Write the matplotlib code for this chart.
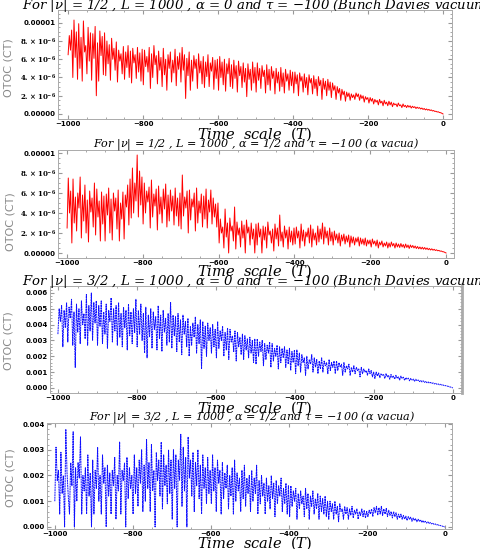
import numpy as np
import matplotlib
matplotlib.use("Agg")
import matplotlib.pyplot as plt

# OTOC values, 32 per 100 time units
# (units: 1e-6 for the nu=1/2 panels, 1e-3 for the nu=3/2 panels)
otoc_half_bd = [
    6.5, 8.6, 7.0, 9.2, 4.0, 10.3, 6.2, 9.0, 3.8, 9.9, 5.0, 8.4, 3.6, 10.2, 6.8, 7.5,
    4.4, 9.5, 5.8, 8.9, 3.7, 8.8, 6.1, 9.6, 2.0, 7.8, 3.6, 9.1, 6.4, 8.5, 4.3, 8.9,
    4.2, 8.0, 5.5, 7.6, 3.7, 8.3, 6.0, 7.2, 4.8, 7.9, 3.5, 7.0, 5.8, 6.6, 4.4, 7.4,
    3.8, 6.8, 5.1, 7.5, 4.0, 6.9, 3.4, 7.2, 5.6, 6.5, 3.9, 7.3, 4.6, 6.7, 3.6, 7.1,
    3.2, 7.0, 5.2, 6.3, 4.6, 7.3, 2.8, 6.6, 4.0, 7.5, 5.4, 6.4, 3.3, 6.9, 4.8, 6.2,
    3.0, 7.2, 4.3, 6.0, 2.6, 6.5, 5.0, 6.8, 3.5, 5.9, 4.5, 7.1, 3.1, 6.3, 4.9, 6.7,
    3.5, 7.3, 4.8, 6.5, 1.7, 6.1, 4.2, 6.8, 2.6, 5.9, 3.6, 6.4, 5.0, 6.0, 2.8, 6.6,
    4.5, 5.8, 3.3, 6.3, 2.9, 5.7, 4.1, 6.5, 3.0, 5.6, 4.7, 6.2, 2.7, 5.9, 3.9, 6.0,
    2.6, 6.3, 4.0, 5.7, 3.2, 6.0, 2.5, 5.5, 4.4, 6.1, 3.0, 5.4, 2.8, 5.9, 3.9, 5.3,
    2.4, 5.8, 4.2, 5.2, 2.9, 5.6, 3.5, 5.0, 1.9, 5.5, 3.8, 4.9, 2.6, 5.7, 3.4, 5.1,
    2.4, 5.6, 3.7, 5.0, 2.8, 5.3, 4.1, 4.8, 2.3, 5.4, 3.2, 4.9, 2.6, 5.2, 3.9, 4.7,
    2.2, 5.0, 3.4, 4.6, 2.5, 5.1, 3.0, 4.5, 2.3, 4.9, 3.6, 4.4, 2.6, 4.8, 3.1, 4.6,
    2.3, 4.6, 3.3, 4.3, 2.0, 4.5, 3.6, 4.1, 2.4, 4.4, 2.9, 4.0, 2.1, 4.3, 3.4, 3.9,
    2.2, 4.2, 2.8, 3.8, 2.0, 4.1, 3.1, 3.7, 1.6, 3.9, 2.7, 3.6, 2.0, 3.8, 2.6, 3.5,
    1.8, 3.4, 2.6, 3.1, 1.6, 3.0, 2.3, 2.8, 1.5, 2.7, 2.1, 2.5, 1.4, 2.4, 1.9, 2.3,
    1.5, 2.2, 1.8, 2.1, 1.6, 2.3, 1.9, 2.2, 1.5, 2.1, 1.7, 2.0, 1.3, 1.9, 1.6, 1.8,
    1.2, 1.8, 1.4, 1.7, 1.1, 1.6, 1.3, 1.5, 1.0, 1.6, 1.2, 1.4, 0.9, 1.5, 1.1, 1.3,
    0.9, 1.4, 1.0, 1.3, 0.8, 1.2, 1.0, 1.1, 0.8, 1.2, 0.9, 1.0, 0.7, 1.1, 0.8, 0.95,
    0.7, 0.95, 0.75, 0.9, 0.65, 0.85, 0.7, 0.8, 0.6, 0.75, 0.62, 0.7, 0.55, 0.65, 0.5, 0.6,
    0.45, 0.55, 0.42, 0.5, 0.38, 0.45, 0.33, 0.38, 0.28, 0.3, 0.22, 0.24, 0.16, 0.14, 0.08, 0.0,
]
otoc_half_alpha = [
    2.5, 7.5, 4.0, 6.2, 1.0, 7.4, 3.0, 5.6, 2.2, 6.0, 4.5, 7.6, 1.5, 5.8, 3.2, 6.8,
    2.0, 5.3, 1.1, 6.2, 4.1, 5.5, 2.6, 7.0, 1.8, 6.4, 3.6, 5.2, 1.2, 6.1, 2.9, 5.7,
    1.2, 5.9, 3.8, 6.5, 2.0, 5.4, 1.3, 6.0, 4.2, 5.5, 2.4, 6.3, 1.2, 5.0, 3.4, 6.1,
    1.4, 5.8, 4.6, 6.8, 2.8, 7.4, 3.5, 8.5, 4.0, 7.0, 5.2, 9.8, 3.6, 8.2, 4.8, 7.6,
    2.9, 7.0, 4.0, 6.2, 5.1, 6.6, 2.5, 7.3, 3.6, 5.9, 4.7, 6.4, 2.3, 6.7, 3.9, 5.6,
    3.0, 6.4, 4.4, 6.9, 2.6, 5.8, 3.2, 6.3, 4.2, 5.7, 2.8, 6.5, 3.7, 5.5, 2.7, 6.0,
    2.4, 7.8, 3.7, 5.6, 4.5, 6.2, 2.0, 6.3, 3.3, 5.4, 4.6, 6.0, 2.2, 6.5, 3.0, 5.2,
    4.0, 5.9, 2.6, 5.7, 3.4, 6.4, 2.5, 5.3, 4.1, 6.3, 2.9, 5.5, 3.6, 4.9, 2.6, 5.0,
    1.0, 3.4, 2.0, 2.6, 0.5, 4.4, 1.6, 3.0, 0.0, 3.5, 2.2, 2.7, 1.2, 4.6, 0.4, 3.1,
    1.8, 2.5, 0.6, 3.2, 1.5, 2.8, 0.0, 3.3, 2.0, 2.6, 0.8, 3.0, 1.4, 2.4, 0.0, 2.9,
    0.8, 3.0, 1.6, 2.4, 0.0, 2.7, 1.3, 2.6, 0.5, 3.1, 1.8, 2.2, 1.0, 2.4, 0.2, 2.9,
    1.4, 2.5, 0.7, 3.8, 1.2, 2.1, 0.6, 2.7, 1.5, 2.3, 0.4, 2.6, 1.1, 2.2, 0.8, 2.5,
    0.9, 2.6, 1.5, 2.2, 0.5, 2.9, 1.2, 2.3, 0.7, 2.1, 1.6, 2.5, 1.0, 2.8, 0.6, 2.4,
    1.3, 2.0, 0.8, 2.7, 1.1, 2.4, 1.4, 3.0, 0.9, 2.6, 1.5, 2.2, 0.8, 2.5, 1.2, 2.1,
    0.8, 2.2, 1.3, 1.9, 1.0, 2.0, 0.7, 1.8, 1.2, 1.9, 0.9, 1.7, 1.1, 1.8, 0.6, 1.7,
    1.0, 1.6, 0.8, 1.5, 1.1, 1.6, 0.7, 1.5, 0.9, 1.4, 0.8, 1.5, 0.7, 1.3, 0.9, 1.3,
    0.6, 1.4, 0.9, 1.2, 0.7, 1.3, 0.5, 1.1, 0.8, 1.2, 0.6, 1.0, 0.7, 1.1, 0.5, 1.0,
    0.6, 1.1, 0.7, 0.95, 0.5, 1.0, 0.6, 0.9, 0.55, 0.95, 0.6, 0.85, 0.5, 0.9, 0.55, 0.8,
    0.45, 0.8, 0.55, 0.75, 0.5, 0.7, 0.45, 0.65, 0.42, 0.6, 0.4, 0.58, 0.38, 0.55, 0.36, 0.5,
    0.33, 0.45, 0.3, 0.42, 0.28, 0.37, 0.25, 0.32, 0.22, 0.26, 0.18, 0.2, 0.13, 0.12, 0.06, 0.0,
]
otoc_3half_bd = [
    3.4, 5.0, 4.2, 5.2, 2.6, 4.9, 3.8, 5.4, 2.9, 5.1, 4.4, 5.6, 2.7, 4.8, 1.3, 5.3,
    3.5, 5.0, 2.8, 5.5, 4.0, 4.7, 3.1, 5.9, 2.7, 5.2, 3.6, 6.0, 3.0, 5.4, 4.1, 5.5,
    2.7, 5.2, 3.9, 5.5, 2.8, 4.8, 3.4, 5.3, 2.5, 4.9, 4.2, 5.7, 2.9, 5.0, 3.6, 5.2,
    2.7, 5.4, 3.2, 4.7, 2.6, 5.1, 3.8, 4.9, 2.4, 5.3, 3.3, 4.8, 2.8, 5.0, 3.5, 5.6,
    2.6, 4.9, 3.4, 5.3, 3.0, 4.7, 2.2, 5.1, 1.9, 4.6, 3.2, 5.0, 2.5, 4.8, 3.7, 4.5,
    2.4, 5.2, 3.1, 4.6, 2.3, 4.9, 3.5, 4.4, 2.7, 4.7, 2.9, 5.4, 2.5, 4.6, 3.3, 4.5,
    2.3, 4.7, 2.9, 4.3, 2.1, 4.6, 3.4, 4.2, 2.6, 4.4, 2.0, 3.9, 2.7, 4.1, 3.2, 4.5,
    2.2, 4.0, 2.8, 4.3, 1.2, 4.2, 2.5, 3.9, 2.0, 4.1, 3.0, 3.8, 2.2, 4.0, 2.6, 3.7,
    1.9, 4.2, 2.5, 3.6, 3.0, 3.9, 2.0, 3.5, 2.4, 3.8, 1.8, 3.7, 2.9, 3.3, 2.3, 3.6,
    1.7, 3.5, 2.6, 3.2, 2.1, 3.4, 1.8, 3.3, 2.4, 3.1, 1.9, 3.2, 2.2, 3.0, 1.6, 3.1,
    1.5, 3.1, 2.0, 2.9, 2.3, 3.0, 1.4, 2.8, 1.8, 2.7, 2.2, 2.9, 1.3, 2.8, 1.7, 2.5,
    2.0, 2.7, 1.2, 2.6, 1.6, 2.5, 1.9, 2.6, 1.3, 2.4, 1.5, 2.5, 1.1, 2.3, 1.6, 2.4,
    0.9, 2.4, 1.4, 2.2, 1.0, 2.1, 1.6, 1.9, 0.8, 2.0, 1.2, 1.8, 1.5, 2.1, 1.0, 1.9,
    1.3, 1.8, 0.9, 1.7, 1.2, 1.9, 1.0, 1.7, 1.4, 1.6, 0.9, 1.8, 1.1, 1.6, 1.3, 1.7,
    0.9, 1.7, 1.1, 1.6, 1.3, 1.5, 0.8, 1.6, 1.0, 1.4, 1.2, 1.5, 0.8, 1.3, 1.0, 1.4,
    0.9, 1.3, 1.1, 1.2, 0.7, 1.3, 0.9, 1.2, 1.0, 1.1, 0.8, 1.2, 0.9, 1.1, 0.7, 1.0,
    0.6, 1.0, 0.75, 0.95, 0.65, 0.9, 0.8, 0.85, 0.6, 0.9, 0.7, 0.8, 0.55, 0.85, 0.65, 0.75,
    0.55, 0.8, 0.6, 0.7, 0.5, 0.75, 0.6, 0.68, 0.48, 0.65, 0.55, 0.62, 0.45, 0.6, 0.5, 0.56,
    0.42, 0.55, 0.45, 0.5, 0.4, 0.48, 0.38, 0.45, 0.35, 0.42, 0.33, 0.38, 0.3, 0.35, 0.28, 0.32,
    0.25, 0.3, 0.23, 0.26, 0.2, 0.23, 0.17, 0.19, 0.14, 0.15, 0.11, 0.11, 0.07, 0.06, 0.03, 0.0,
]
otoc_3half_alpha = [
    1.0, 3.1, 1.8, 2.2, 0.5, 2.9, 1.3, 2.0, 0.0, 3.8, 2.1, 1.2, 0.5, 2.5, 1.6, 3.7,
    0.0, 2.3, 1.0, 2.5, 1.9, 3.5, 0.5, 2.0, 1.4, 2.3, 0.5, 2.8, 1.2, 2.1, 0.0, 2.6,
    0.5, 2.2, 1.5, 3.1, 1.0, 2.0, 0.5, 2.8, 1.7, 2.3, 0.0, 2.4, 1.2, 2.1, 0.5, 2.2,
    1.6, 2.7, 0.3, 2.0, 1.4, 3.3, 0.5, 2.2, 1.8, 2.5, 0.0, 2.7, 1.1, 2.3, 1.5, 2.0,
    0.5, 2.8, 1.3, 2.3, 0.8, 2.6, 1.7, 3.0, 0.6, 2.4, 1.0, 3.4, 1.5, 2.5, 0.6, 3.2,
    1.4, 2.2, 0.0, 2.9, 1.8, 2.6, 1.2, 3.3, 0.7, 2.8, 1.6, 2.4, 0.9, 3.0, 1.3, 2.6,
    0.3, 3.0, 1.5, 2.8, 0.0, 2.6, 1.8, 3.6, 0.8, 3.1, 1.4, 2.7, 0.0, 3.5, 1.9, 2.6,
    1.2, 2.9, 0.6, 2.5, 1.6, 3.0, 1.1, 2.4, 0.5, 2.8, 1.5, 2.3, 0.9, 2.7, 1.3, 2.2,
    0.9, 2.8, 1.4, 2.3, 0.6, 2.6, 1.7, 2.2, 0.5, 2.5, 1.1, 2.1, 1.5, 2.4, 0.7, 2.0,
    1.2, 2.3, 0.5, 2.6, 1.0, 2.1, 1.4, 1.9, 0.6, 2.2, 1.1, 2.4, 0.8, 1.9, 1.3, 2.0,
    0.6, 2.2, 1.0, 1.9, 1.3, 2.4, 0.5, 1.8, 0.9, 2.0, 1.2, 1.7, 0.5, 1.9, 1.0, 1.6,
    0.7, 2.0, 1.1, 1.7, 0.4, 1.8, 0.9, 1.6, 1.2, 1.9, 0.6, 1.5, 0.9, 1.7, 0.5, 1.6,
    0.4, 1.6, 0.8, 1.4, 1.0, 1.5, 0.3, 1.3, 0.7, 1.4, 0.9, 1.2, 0.4, 1.5, 0.7, 1.3,
    0.3, 1.2, 0.8, 1.4, 0.5, 1.1, 0.7, 1.3, 0.3, 1.2, 0.6, 1.1, 0.5, 1.2, 0.4, 1.0,
    0.3, 1.0, 0.6, 0.9, 0.3, 1.0, 0.5, 0.8, 0.2, 0.9, 0.6, 0.7, 0.3, 0.8, 0.5, 0.75,
    0.3, 0.7, 0.45, 0.8, 0.35, 0.65, 0.5, 0.7, 0.3, 0.6, 0.45, 0.7, 0.4, 0.65, 0.35, 0.6,
    0.4, 0.65, 0.5, 0.7, 0.4, 0.75, 0.55, 0.8, 0.45, 0.75, 0.5, 0.8, 0.45, 0.7, 0.5, 0.72,
    0.4, 0.65, 0.45, 0.6, 0.35, 0.6, 0.4, 0.55, 0.3, 0.5, 0.35, 0.5, 0.3, 0.45, 0.3, 0.42,
    0.25, 0.4, 0.3, 0.38, 0.22, 0.35, 0.25, 0.32, 0.2, 0.3, 0.22, 0.28, 0.18, 0.25, 0.17, 0.22,
    0.15, 0.2, 0.13, 0.17, 0.12, 0.15, 0.1, 0.12, 0.08, 0.09, 0.06, 0.06, 0.04, 0.03, 0.01, 0.0,
]

titles = [
    r"For $|\nu|$ = 1/2 , $L$ = 1000 , $\alpha$ = 0 and $\tau$ = $-$100 (Bunch Davies vacuum)",
    r"For $|\nu|$ = 1/2 , $L$ = 1000 , $\alpha$ = 1/2 and $\tau$ = $-$100 ($\alpha$ vacua)",
    r"For $|\nu|$ = 3/2 , $L$ = 1000 , $\alpha$ = 0 and $\tau$ = $-$100 (Bunch Davies vacuum)",
    r"For $|\nu|$ = 3/2 , $L$ = 1000 , $\alpha$ = 1/2 and $\tau$ = $-$100 ($\alpha$ vacua)",
]
x_ticks = [-1000, -800, -600, -400, -200, 0]
x_ticklabels = ["\u22121000", "\u2212800", "\u2212600", "\u2212400", "\u2212200", "0"]
y_ticks_small = [0, 2e-6, 4e-6, 6e-6, 8e-6, 1e-5]
y_ticklabels_small = ["0.00000", r"$\mathbf{2.\times10^{-6}}$", r"$\mathbf{4.\times10^{-6}}$",
                      r"$\mathbf{6.\times10^{-6}}$", r"$\mathbf{8.\times10^{-6}}$", "0.00001"]
y_ticks_bd = [0, 0.001, 0.002, 0.003, 0.004, 0.005, 0.006]
y_ticks_alpha = [0, 0.001, 0.002, 0.003, 0.004]

W, H = 481, 549
fig = plt.figure(figsize=(W / 100, H / 100), dpi=100)
plt.rcParams['mathtext.fontset'] = 'dejavuserif'


def box(l, r, t, b):
    """pixel box -> figure rect"""
    return [l / W, 1 - b / H, (r - l) / W, (b - t) / H]


def fig_text(x, y, s, **kw):
    fig.text(x / W, 1 - y / H, s, **kw)


# (values, scale, color, linestyle, rect, xlim, ylim, yticks, yticklabels)
panels = [
    (otoc_half_bd, 1e-6, "#ff0000", "-", box(58, 452, 10, 119), (-1027, 24), (-0.55e-6, 11.4e-6),
     y_ticks_small, y_ticklabels_small),
    (otoc_half_alpha, 1e-6, "#ff0000", "-", box(58, 454, 150, 258), (-1024, 21), (-0.5e-6, 10.3e-6),
     y_ticks_small, y_ticklabels_small),
    (otoc_3half_bd, 1e-3, "#1010ff", (0, (2, 0.6)), box(50, 462, 286, 393), (-1020, 23), (-0.32e-3, 6.44e-3),
     y_ticks_bd, ["%.3f" % v for v in y_ticks_bd]),
    (otoc_3half_alpha, 1e-3, "#1010ff", (0, (2, 0.6)), box(47, 452, 423, 529), (-1020, 18), (-0.08e-3, 4.04e-3),
     y_ticks_alpha, ["%.3f" % v for v in y_ticks_alpha]),
]

axes = []
for vals, scale, color, ls, rect, xlim, ylim, yt, ytl in panels:
    ax = fig.add_axes(rect)
    T = np.linspace(-1000, 0, len(vals))
    ax.plot(T, np.array(vals) * scale, color=color, lw=0.7, ls=ls)
    ax.set_xlim(*xlim)
    ax.set_ylim(*ylim)
    ax.set_xticks(x_ticks)
    ax.set_xticklabels(x_ticklabels)
    ax.set_yticks(yt)
    ax.set_yticklabels(ytl)
    ax.minorticks_on()
    ax.tick_params(which="both", direction="in", top=True, right=True, color="#999999",
                   labelsize=5, pad=1.5)
    ax.tick_params(which="major", length=3)
    ax.tick_params(which="minor", length=1.5)
    for lab in ax.get_xticklabels() + ax.get_yticklabels():
        lab.set_fontweight("bold")
    for sp in ax.spines.values():
        sp.set_color("#aaaaaa")
        sp.set_linewidth(0.7)
    axes.append(ax)

axes[2].spines["right"].set_linewidth(2.0)

# titles (first and third run past the right edge, as in the original)
title_font = dict(family="DejaVu Serif", style="italic", fontsize=9.5)
fig_text(22, 6, titles[0], ha="left", va="center", **title_font)
fig_text(256, 144, titles[1], ha="center", va="center", family="DejaVu Serif", style="italic", fontsize=8)
fig_text(22, 281, titles[2], ha="left", va="center", **title_font)
fig_text(252, 417, titles[3], ha="center", va="center", family="DejaVu Serif", style="italic", fontsize=8)

# x labels
xlab = r"$\mathit{Time\ \ scale\ \ (T)}$"
for y in [134, 271, 408, 543]:
    fig_text(255, y, xlab, ha="center", va="center", fontsize=10.5)

# y labels
for x, y in [(9, 68), (11, 222), (9, 341), (11, 478)]:
    fig_text(x, y, "OTOC (CT)", ha="center", va="center", rotation=90, color="#888888", fontsize=8)

fig.savefig("out.png", dpi=100)
